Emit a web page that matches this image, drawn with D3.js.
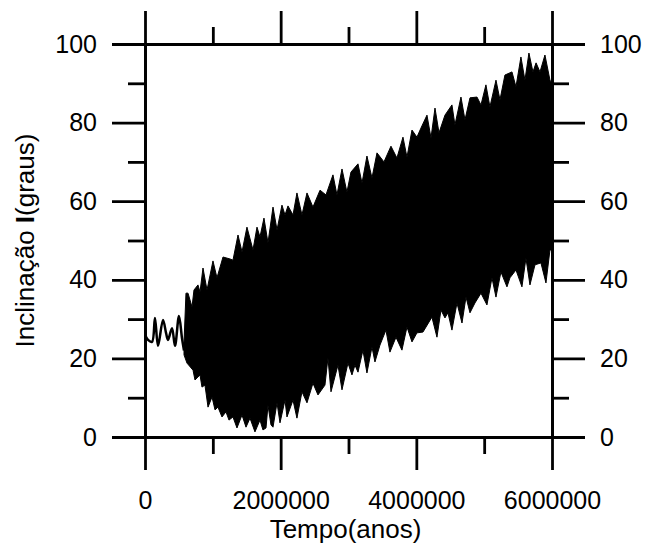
<!DOCTYPE html>
<html>
<head>
<meta charset="utf-8">
<script src="https://cdn.jsdelivr.net/npm/d3@7"></script>
<style>
  body { margin: 0; background: #fff; }
  svg text { font-family: "Liberation Sans", Arial, sans-serif; fill: #000; }
</style>
</head>
<body>
<div id="chart"></div>
<script>
// time axis (years) and tick values
var xTicksMajor = [0, 2000000, 4000000, 6000000];
var xTicksMinor = [1000000, 3000000, 5000000];
var yTicksMajor = [0, 20, 40, 60, 80, 100];
var yTicksMinor = [10, 30, 50, 70, 90];

// early part: a single thin wiggly line (years, degrees)
var lineT = [0, 44000, 103000, 147000, 192000, 265000, 310000, 339000, 398000, 442000, 501000, 545000, 575000];
var lineV = [26.0, 24.7, 24.2, 30.3, 23.2, 29.8, 26.5, 24.7, 27.7, 23.2, 30.8, 25.2, 22.0];

// fast oscillation band: upper envelope
var upperT = [575000, 604000, 634000, 693000, 722000, 781000, 811000, 855000, 914000, 1002000,
  1061000, 1150000, 1253000, 1297000, 1371000, 1430000, 1503000, 1592000, 1651000, 1695000,
  1754000, 1813000, 1887000, 1946000, 2019000, 2064000, 2108000, 2182000, 2240000, 2314000,
  2388000, 2476000, 2580000, 2668000, 2771000, 2830000, 2904000, 2977000, 3036000, 3140000,
  3199000, 3272000, 3346000, 3420000, 3523000, 3626000, 3714000, 3803000, 3862000, 3936000,
  4009000, 4068000, 4157000, 4216000, 4275000, 4334000, 4422000, 4525000, 4569000, 4658000,
  4717000, 4791000, 4894000, 4953000, 5026000, 5085000, 5174000, 5233000, 5306000, 5410000,
  5469000, 5542000, 5601000, 5660000, 5719000, 5765000, 5823000, 5896000, 5970000, 6000000];
var upperV = [24.0, 36.6, 36.6, 33.1, 37.4, 38.7, 36.9, 43.0, 37.4, 44.8,
  40.5, 45.8, 45.3, 45.0, 51.4, 47.1, 53.4, 47.6, 53.4, 50.9,
  55.7, 49.4, 58.5, 52.7, 59.0, 56.5, 58.8, 56.5, 62.1, 56.5,
  62.1, 58.5, 62.8, 61.6, 66.7, 61.6, 68.2, 62.3, 67.4, 69.5,
  64.6, 71.5, 65.9, 72.3, 70.0, 74.0, 71.0, 76.3, 71.2, 78.1,
  76.3, 78.6, 81.9, 76.1, 83.7, 77.4, 81.9, 84.5, 79.4, 86.5,
  80.7, 86.3, 86.5, 84.5, 89.6, 84.0, 90.8, 85.8, 92.1, 92.9,
  89.1, 96.7, 90.8, 97.7, 92.9, 95.2, 92.9, 97.2, 90.8, 90.1];

// lower envelope
var lowerT = [575000, 619000, 708000, 737000, 811000, 840000, 884000, 929000, 988000, 1032000,
  1076000, 1135000, 1194000, 1238000, 1297000, 1356000, 1430000, 1489000, 1548000, 1621000,
  1695000, 1739000, 1784000, 1813000, 1857000, 1887000, 1946000, 1990000, 2064000, 2093000,
  2182000, 2240000, 2314000, 2388000, 2476000, 2550000, 2653000, 2697000, 2742000, 2845000,
  2904000, 2992000, 3051000, 3095000, 3140000, 3213000, 3272000, 3346000, 3390000, 3464000,
  3552000, 3611000, 3700000, 3788000, 3862000, 3936000, 4009000, 4098000, 4230000, 4304000,
  4363000, 4422000, 4466000, 4525000, 4599000, 4673000, 4732000, 4791000, 4864000, 4953000,
  5041000, 5115000, 5174000, 5247000, 5336000, 5380000, 5469000, 5557000, 5616000, 5675000,
  5749000, 5837000, 5911000, 5970000, 6000000];
var lowerV = [20.9, 18.8, 17.0, 14.5, 15.8, 12.7, 13.2, 7.6, 10.2, 6.9,
  7.6, 5.1, 6.4, 4.3, 5.1, 2.3, 5.6, 2.5, 4.8, 1.3,
  4.3, 1.8, 2.3, 8.1, 3.1, 2.5, 8.7, 3.6, 9.4, 5.1,
  9.4, 4.8, 11.5, 8.7, 13.7, 10.7, 13.2, 20.1, 11.5, 18.3,
  12.0, 18.8, 15.8, 18.3, 16.5, 22.1, 16.3, 22.9, 19.1, 23.4,
  27.2, 21.6, 25.4, 22.1, 28.0, 24.2, 26.5, 26.7, 30.5, 25.4,
  32.3, 30.3, 31.6, 27.2, 34.1, 29.0, 35.6, 31.6, 34.1, 36.6,
  33.6, 40.5, 35.6, 42.0, 38.2, 40.5, 42.5, 38.2, 45.5, 38.7,
  43.8, 44.3, 39.2, 47.6, 47.6];

var svgWidth = 645;
var svgHeight = 544;
var margin = { top: 44, right: 93, bottom: 107, left: 145 };
var width = svgWidth - margin.left - margin.right;
var height = svgHeight - margin.top - margin.bottom;

var svg = d3.select("#chart")
  .append("svg")
  .attr("width", svgWidth)
  .attr("height", svgHeight);

var chart = svg.append("g")
  .attr("transform", "translate(" + margin.left + "," + margin.top + ")");

var x = d3.scaleLinear().domain([0, 6000000]).range([0, width]);
var y = d3.scaleLinear().domain([0, 100]).range([height, 0]);

// band as an area between envelopes (upper then lower reversed)
var bandPts = upperT.map(function(t, i) { return [x(t), y(upperV[i])]; });
for (var i = lowerT.length - 1; i >= 0; i--) {
  bandPts.push([x(lowerT[i]), y(lowerV[i])]);
}
chart.append("path")
  .attr("d", d3.line()(bandPts) + "Z")
  .attr("fill", "#000")
  .attr("stroke", "#000")
  .attr("stroke-width", 1)
  .attr("stroke-linejoin", "round");

var wiggle = d3.line()
  .x(function(d, i) { return x(lineT[i]); })
  .y(function(d) { return y(d); })
  .curve(d3.curveCatmullRom);
chart.append("path")
  .attr("d", wiggle(lineV))
  .attr("fill", "none")
  .attr("stroke", "#000")
  .attr("stroke-width", 2.5);

// axes: major ticks long with labels, minor ticks short
var fontSize = "25px";
var titleSize = "26px";
function styleAxis(g) {
  g.selectAll("path, line").attr("stroke", "#000").attr("stroke-width", 2.8);
  g.selectAll("text").style("font-size", fontSize)
    .style("font-family", "'Liberation Sans', Arial, sans-serif").attr("fill", "#000");
}

chart.append("g").attr("transform", "translate(0," + height + ")")
  .call(d3.axisBottom(x).tickValues(xTicksMajor).tickSize(33).tickSizeOuter(0).tickPadding(21).tickFormat(d3.format("d")))
  .call(styleAxis);
chart.append("g").attr("transform", "translate(0," + height + ")")
  .call(d3.axisBottom(x).tickValues(xTicksMinor).tickSize(17).tickSizeOuter(0).tickFormat(""))
  .call(styleAxis);
chart.append("g")
  .call(d3.axisTop(x).tickValues(xTicksMajor).tickSize(33).tickSizeOuter(0).tickFormat(""))
  .call(styleAxis);
chart.append("g")
  .call(d3.axisTop(x).tickValues(xTicksMinor).tickSize(17).tickSizeOuter(0).tickFormat(""))
  .call(styleAxis);

chart.append("g")
  .call(d3.axisLeft(y).tickValues(yTicksMajor).tickSize(33).tickSizeOuter(0).tickPadding(15))
  .call(styleAxis);
chart.append("g")
  .call(d3.axisLeft(y).tickValues(yTicksMinor).tickSize(17).tickSizeOuter(0).tickFormat(""))
  .call(styleAxis);
chart.append("g").attr("transform", "translate(" + width + ",0)")
  .call(d3.axisRight(y).tickValues(yTicksMajor).tickSize(33).tickSizeOuter(0).tickPadding(15))
  .call(styleAxis);
chart.append("g").attr("transform", "translate(" + width + ",0)")
  .call(d3.axisRight(y).tickValues(yTicksMinor).tickSize(17).tickSizeOuter(0).tickFormat(""))
  .call(styleAxis);

// axis titles
chart.append("text")
  .attr("x", width / 2 - 3)
  .attr("y", height + 101)
  .attr("text-anchor", "middle")
  .style("font-size", titleSize)
  .text("Tempo(anos)");

var yTitle = chart.append("text")
  .attr("transform", "translate(" + (34 - margin.left) + "," + (height / 2) + ") rotate(-90)")
  .attr("text-anchor", "middle")
  .style("font-size", titleSize);
yTitle.append("tspan").text("Inclinação ");
yTitle.append("tspan").style("font-weight", "bold").text("I");
yTitle.append("tspan").text("(graus)");
</script>
</body>
</html>
